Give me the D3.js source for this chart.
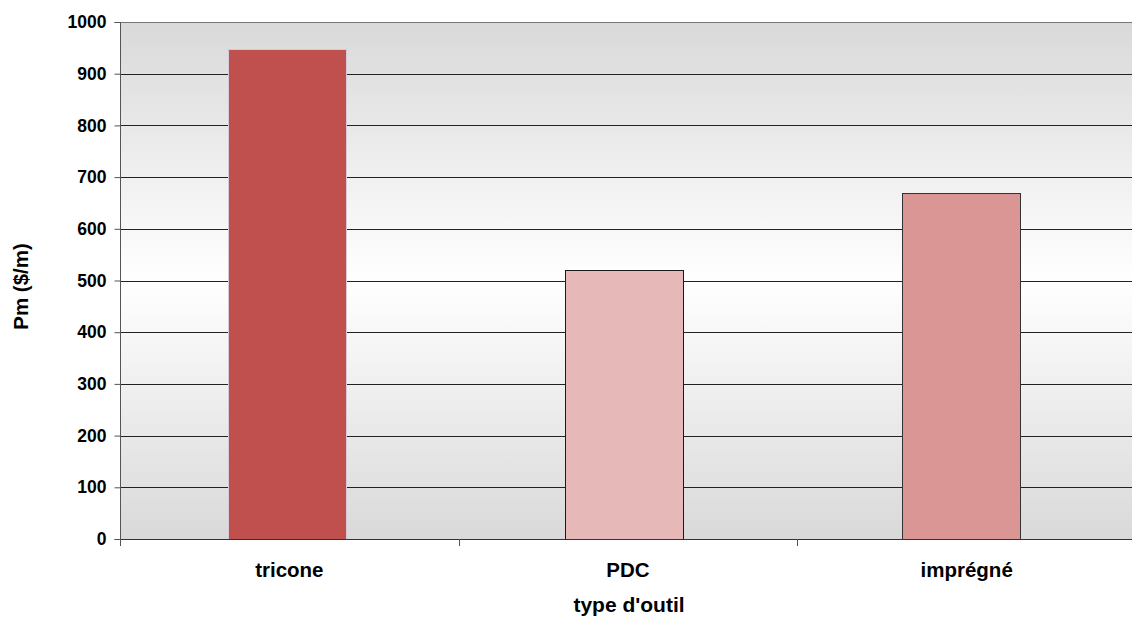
<!DOCTYPE html>
<html>
<head>
<meta charset="utf-8">
<script src="https://cdn.jsdelivr.net/npm/d3@7"></script>
<style>
  html, body { margin: 0; padding: 0; background: #fff; }
  svg { display: block; }
  text { font-family: "Liberation Sans", Arial, sans-serif; font-weight: bold; fill: #000; }
</style>
</head>
<body>
<svg id="chart" width="1132" height="619"></svg>
<script>
// Cost per metre by bit type
const categories = ["tricone", "PDC", "imprégné"];
const costValues = [947, 520, 670];
const barColors = ["#c0504d", "#e6b9b8", "#d99694"];
const barStrokes = ["#d8c8d8", "#1a1a1a", "#333333"];
const yTicks = [0, 100, 200, 300, 400, 500, 600, 700, 800, 900, 1000];
const yTitle = "Pm ($/m)";
const xTitle = "type d'outil";

const svg = d3.select("#chart");
const W = 1132, H = 619;
const plotL = 120, plotR = 1136;
const plotT = 22, plotB = 539;

// category bands for the axis (boundaries) and for the bars
const xAxisScale = d3.scaleBand().domain(categories).range([plotL, plotR]);
const x = d3.scaleBand().domain(categories).range([118, 1130]).paddingInner(0.65).paddingOuter(0.325);
const y = d3.scaleLinear().domain([0, 1000]).range([plotB, plotT]);

// background gradient: grey at top and bottom, white in the middle
const defs = svg.append("defs");
const grad = defs.append("linearGradient").attr("id", "bg").attr("x1", 0).attr("x2", 0).attr("y1", 0).attr("y2", 1);
grad.append("stop").attr("offset", "0%").attr("stop-color", "#d9d9d9");
grad.append("stop").attr("offset", "50%").attr("stop-color", "#ffffff");
grad.append("stop").attr("offset", "100%").attr("stop-color", "#d9d9d9");

svg.append("rect")
  .attr("x", plotL).attr("y", plotT)
  .attr("width", plotR - plotL).attr("height", plotB - plotT)
  .attr("fill", "url(#bg)");

// horizontal gridlines
svg.append("g").selectAll("line")
  .data(yTicks.filter(d => d > 0))
  .join("line")
  .attr("x1", plotL).attr("x2", plotR)
  .attr("y1", d => Math.round(y(d)) + 0.5).attr("y2", d => Math.round(y(d)) + 0.5)
  .attr("stroke", d => d === 1000 ? "#777" : "#222")
  .attr("stroke-width", 1);

// bars
svg.append("g").selectAll("rect")
  .data(categories)
  .join("rect")
  .attr("x", d => Math.round(x(d)) + 0.5)
  .attr("y", (d, i) => Math.round(y(costValues[i])) + 0.5)
  .attr("width", Math.round(x.bandwidth()))
  .attr("height", (d, i) => Math.round(y(0)) - Math.round(y(costValues[i])))
  .attr("fill", (d, i) => barColors[i])
  .attr("stroke", (d, i) => barStrokes[i])
  .attr("stroke-width", 1);

// y axis
const yAxis = d3.axisLeft(y).tickValues(yTicks).tickSize(6).tickPadding(8).tickFormat(d3.format("d"));
const gy = svg.append("g").attr("transform", `translate(${plotL + 0.5},0)`).call(yAxis);
gy.select(".domain").attr("stroke", "#555").attr("d", `M-6,${plotT + 0.5}H0V${plotB + 0.5}H-6`);
gy.selectAll(".tick line").attr("stroke", "#555");
gy.selectAll(".tick text").attr("font-size", 17.5).attr("font-family", "Liberation Sans, Arial, sans-serif").attr("font-weight", "bold").attr("fill", "#000");

// x axis: baseline with ticks on category boundaries
const boundaries = categories.map(c => xAxisScale(c)).concat([plotR]);
const gx = svg.append("g");
gx.append("line").attr("x1", plotL).attr("x2", plotR)
  .attr("y1", Math.round(y(0)) + 0.5).attr("y2", Math.round(y(0)) + 0.5)
  .attr("stroke", "#333");
gx.selectAll("line.tk").data(boundaries).join("line").attr("class", "tk")
  .attr("x1", d => Math.round(d) + 0.5).attr("x2", d => Math.round(d) + 0.5)
  .attr("y1", Math.round(y(0))).attr("y2", Math.round(y(0)) + 7)
  .attr("stroke", "#555");
gx.selectAll("text").data(categories).join("text")
  .attr("x", d => xAxisScale(d) + xAxisScale.bandwidth() / 2)
  .attr("y", 577)
  .attr("text-anchor", "middle")
  .attr("font-size", 20.5)
  .text(d => d);

// axis titles
svg.append("text")
  .attr("x", 629).attr("y", 612)
  .attr("text-anchor", "middle").attr("font-size", 21)
  .text(xTitle);

svg.append("text")
  .attr("transform", `translate(27.5,286.5) rotate(-90)`)
  .attr("text-anchor", "middle").attr("font-size", 20.5)
  .text(yTitle);
</script>
</body>
</html>
